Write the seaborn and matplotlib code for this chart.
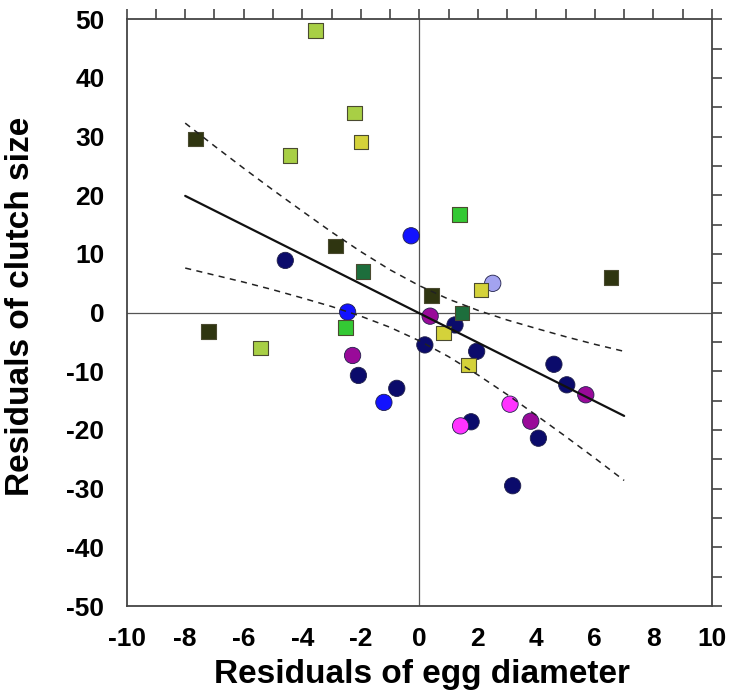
import matplotlib
matplotlib.use("Agg")
import matplotlib.pyplot as plt
from matplotlib.ticker import MultipleLocator
import seaborn as sns
import pandas as pd

# ---------------- data ----------------
# squares
sq_yellowgreen_x = [-3.55, -2.22, -4.42, -5.42]
sq_yellowgreen_y = [48.1, 34.0, 26.8, -6.0]
sq_yellow_x = [-2.00, 2.11, 0.82, 1.68]
sq_yellow_y = [29.1, 3.9, -3.5, -8.9]
sq_darkolive_x = [-7.65, -2.86, 0.42, 6.55, -7.20]
sq_darkolive_y = [29.6, 11.4, 2.9, 6.0, -3.2]
sq_darkgreen_x = [-1.92, 1.45]
sq_darkgreen_y = [7.0, -0.1]
sq_green_x = [1.37, -2.52]
sq_green_y = [16.7, -2.5]

# circles
ci_navy_x = [-4.58, 1.22, 0.19, 1.96, 4.60, 5.04, 4.07, 1.77, 3.19, -2.08, -0.77]
ci_navy_y = [8.9, -2.1, -5.5, -6.6, -8.8, -12.3, -21.4, -18.6, -29.5, -10.7, -12.9]
ci_blue_x = [-0.28, -2.45, -1.21]
ci_blue_y = [13.1, 0.1, -15.3]
ci_lavender_x = [2.51]
ci_lavender_y = [5.0]
ci_purple_x = [0.37, 5.69, 3.81, -2.28]
ci_purple_y = [-0.6, -14.0, -18.5, -7.3]
ci_magenta_x = [3.10, 1.41]
ci_magenta_y = [-15.6, -19.3]

# regression line and confidence band
fit_x = [-8.0, 7.0]
fit_y = [19.9, -17.6]
band_x = [-8, -7, -6, -5, -4, -3, -2, -1, 0, 1, 2, 3, 4, 5, 6, 7]
band_upper = [32.3, 28.4, 24.6, 20.9, 17.3, 13.75, 10.4, 7.3, 4.6, 2.3, 0.4, -1.25, -2.7, -4.1, -5.4, -6.6]
band_lower = [7.6, 6.4, 5.2, 3.9, 2.5, 1.05, -0.6, -2.5, -4.8, -7.5, -10.6, -13.95, -17.5, -21.1, -24.8, -28.6]

x_ticks = [-10, -8, -6, -4, -2, 0, 2, 4, 6, 8, 10]
y_ticks = [-50, -40, -30, -20, -10, 0, 10, 20, 30, 40, 50]

# ---------------- build tables ----------------
def make(xs, ys, grp):
    return pd.DataFrame({"x": xs, "y": ys, "group": grp})

circles = pd.concat([
    make(ci_navy_x, ci_navy_y, "navy"),
    make(ci_blue_x, ci_blue_y, "blue"),
    make(ci_lavender_x, ci_lavender_y, "lavender"),
    make(ci_purple_x, ci_purple_y, "purple"),
    make(ci_magenta_x, ci_magenta_y, "magenta"),
], ignore_index=True)

squares = pd.concat([
    make(sq_yellowgreen_x, sq_yellowgreen_y, "yellowgreen"),
    make(sq_yellow_x, sq_yellow_y, "yellow"),
    make(sq_darkolive_x, sq_darkolive_y, "darkolive"),
    make(sq_darkgreen_x, sq_darkgreen_y, "darkgreen"),
    make(sq_green_x, sq_green_y, "green"),
], ignore_index=True)

palette = {
    "navy": "#0b0b6b",
    "blue": "#1212ff",
    "lavender": "#a3a3f0",
    "purple": "#990a99",
    "magenta": "#ff33ff",
    "yellowgreen": "#a8cf45",
    "yellow": "#d4d23a",
    "darkolive": "#2f3510",
    "darkgreen": "#1d6e3c",
    "green": "#34c934",
}

fit = pd.DataFrame({"x": fit_x, "y": fit_y})
band = pd.DataFrame({"x": band_x, "upper": band_upper, "lower": band_lower})

# ---------------- plot ----------------
sns.set_style("white")
plt.rcParams["font.family"] = ["Liberation Sans", "DejaVu Sans"]
plt.rcParams["font.weight"] = "bold"
plt.rcParams["axes.unicode_minus"] = False
plt.rcParams["text.color"] = "black"
plt.rcParams["axes.labelcolor"] = "black"
plt.rcParams["xtick.labelcolor"] = "black"
plt.rcParams["ytick.labelcolor"] = "black"

fig = plt.figure(figsize=(7.31, 6.96), dpi=100)
ax = fig.add_axes([0.1733, 0.1293, 0.8006, 0.843])

ax.axhline(0, color="#555555", lw=0.9, zorder=1)
ax.axvline(0, color="#555555", lw=0.9, zorder=1)

sns.scatterplot(data=circles, x="x", y="y", hue="group", palette=palette,
                marker="o", s=138, edgecolor="#20204a", linewidth=0.6,
                legend=False, ax=ax, zorder=3)
sns.scatterplot(data=squares, x="x", y="y", hue="group", palette=palette,
                marker="s", s=108, edgecolor="#4a4a30", linewidth=0.8,
                legend=False, ax=ax, zorder=4)

sns.lineplot(data=fit, x="x", y="y", color="#111111", lw=1.6, ax=ax, zorder=5)
sns.lineplot(data=band, x="x", y="upper", color="#222222", lw=1.1,
             linestyle=(0, (4, 3.5)), ax=ax, zorder=5)
sns.lineplot(data=band, x="x", y="lower", color="#222222", lw=1.1,
             linestyle=(0, (4, 3.5)), ax=ax, zorder=5)

ax.set_xlim(-10, 10)
ax.set_ylim(-50, 50)
ax.set_xticks(x_ticks)
ax.set_yticks(y_ticks)
ax.xaxis.set_minor_locator(MultipleLocator(1))
ax.yaxis.set_minor_locator(MultipleLocator(5))

for sp in ax.spines.values():
    sp.set_visible(True)
    sp.set_color("#444444")
    sp.set_linewidth(1.3)

ax.tick_params(which="both", direction="out", length=7, width=1.2,
               color="#444444", top=True, right=True,
               labeltop=False, labelright=False)
ax.tick_params(axis="both", which="major", labelsize=19, pad=8,
               labelcolor="black")
ax.tick_params(axis="y", which="major", pad=9)
for lab in ax.get_xticklabels() + ax.get_yticklabels():
    lab.set_fontweight("bold")

ax.set_xlabel("Residuals of egg diameter", fontsize=24, fontweight="bold",
              color="black")
ax.set_ylabel("Residuals of clutch size", fontsize=24, fontweight="bold",
              color="black")
ax.xaxis.set_label_coords(0.504, -0.09)
ax.yaxis.set_label_coords(-0.155, 0.51)

fig.savefig("out.png", dpi=100)
